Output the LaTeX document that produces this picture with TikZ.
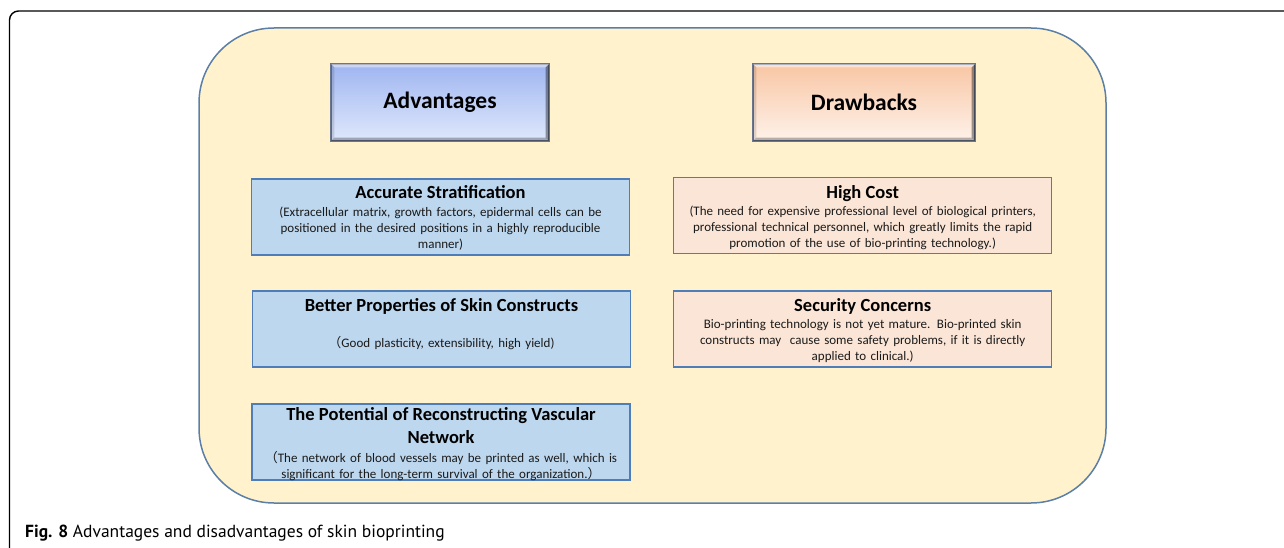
\documentclass[tikz,border=0pt]{standalone}
\usepackage{fontspec}
\setmainfont{Carlito}
\newfontfamily\capfont{PT Sans}
\newfontfamily\cjk{Noto Sans CJK SC}
\usetikzlibrary{calc}
\definecolor{panelfill}{HTML}{FFF2CC}
\definecolor{panelline}{HTML}{5B7FA6}
\definecolor{boxline}{HTML}{4F7DB8}
\definecolor{advfill}{HTML}{BDD7EE}
\definecolor{drfill}{HTML}{FBE5D6}
\definecolor{advtop}{HTML}{9FB5F0}
\definecolor{advbot}{HTML}{DFE8FC}
\definecolor{drtop}{HTML}{F8C6A4}
\definecolor{drbot}{HTML}{FEF2EA}
\definecolor{headline}{HTML}{6A7690}
\definecolor{bodytext}{HTML}{1A1A1A}
\newcommand\ttl[1]{{\fontsize{18.5}{20}\selectfont\bfseries\color{black}#1}}
\newcommand\headbevel[1]{%
  \fill[white,opacity=.45] (#1.north west) -- (#1.north east) -- ($(#1.north east)+(-4,4)$) -- ($(#1.north west)+(4,4)$) -- cycle;
  \fill[black,opacity=.28] (#1.south west) -- (#1.south east) -- ($(#1.south east)+(-4,-4)$) -- ($(#1.south west)+(4,-4)$) -- cycle;
  \fill[black,opacity=.38] (#1.north east) -- (#1.south east) -- ($(#1.south east)+(-4,-4)$) -- ($(#1.north east)+(-4,4)$) -- cycle;
  \fill[black,opacity=.12] (#1.north west) -- (#1.south west) -- ($(#1.south west)+(4,-4)$) -- ($(#1.north west)+(4,4)$) -- cycle;
  \draw[headline,line width=1.2pt] (#1.north west) rectangle (#1.south east);}
\begin{document}
\begin{tikzpicture}[x=1pt,y=-1pt,
  frame/.style={line width=1.4pt,black},
  panel/.style={draw=panelline,fill=panelfill,line width=1.5pt},
  headbox/.style={line width=1.2pt,draw=headline,minimum width=218pt,minimum height=77pt,inner sep=0pt,font=\fontsize{23.5}{26}\selectfont\bfseries},
  advhead/.style={headbox,top color=advtop,bottom color=advbot},
  drhead/.style={headbox,top color=drtop,bottom color=drbot,minimum width=222pt},
  itembox/.style={draw=boxline,line width=1.3pt,minimum width=378pt,minimum height=76pt,inner sep=0pt},
  abox/.style={itembox,fill=advfill},
  dbox/.style={itembox,fill=drfill},
  txt/.style={text width=374pt,align=center,inner sep=0pt,font=\fontsize{13}{16}\selectfont,text=bodytext},
  captxt/.style={anchor=base west,inner sep=0pt,font=\capfont\fontsize{17.5}{21}\selectfont}]
\useasboundingbox (0,0) rectangle (1284,548);
% outer frame
\draw[frame,rounded corners=9pt] (9.5,548) -- (9.5,11) -- (1284,11);
% panel
\draw[panel,rounded corners=75pt] (199,28) rectangle (1106,503);
% headers
\node[advhead] (adv) at (440,102.5) {Advantages};
\headbevel{adv}
\node[drhead] (drw) at (864,102.5) {Drawbacks};
\headbevel{drw}
% advantage boxes
\node[abox] (acc) at (440.5,217) {};
\node[txt] (acct) at ([yshift=-1]acc.center) {\ttl{Accurate Stratification}\\[1.5pt]
(Extracellular matrix, growth factors, epidermal cells can be\\
positioned in the desired positions in a highly reproducible\\
manner)};
\node[abox] (bet) at (441.5,329) {};
\node[txt] (bett) at ([yshift=5]bet.center) {\ttl{Better Properties of Skin Constructs}\\[20pt]
{\cjk （}Good plasticity, extensibility, high yield)};
\node[abox] (vas) at (441,442) {};
\node[txt] (vast) at ([yshift=-2.5]vas.center) {\ttl{The Potential of Reconstructing Vascular}\\[6pt]
\ttl{Network}\\[3pt]
{\cjk （}The network of blood vessels may be printed as well, which is\\
significant for the long-term survival of the organization.{\cjk ）}};
% drawback boxes
\node[dbox] (cost) at (862.7,215.5) {};
\node[txt] (costt) at ([yshift=-2]cost.center) {\ttl{High Cost}\\[1.5pt]
(The need for expensive professional level of biological printers,\\
professional technical personnel, which greatly limits the rapid\\
promotion of the use of bio-printing technology.)};
\node[dbox] (sec) at (862.7,329) {};
\node[txt] (sect) at ([yshift=-1.5]sec.center) {\ttl{Security Concerns}\\[1.5pt]
Bio-printing technology is not yet mature. Bio-printed skin\\
constructs may~ cause some safety problems, if it is directly\\
applied to clinical.)};
% caption
\node[captxt] (cap) at (25,537) {\textbf{Fig. 8} Advantages and disadvantages of skin bioprinting};
\end{tikzpicture}
\end{document}
